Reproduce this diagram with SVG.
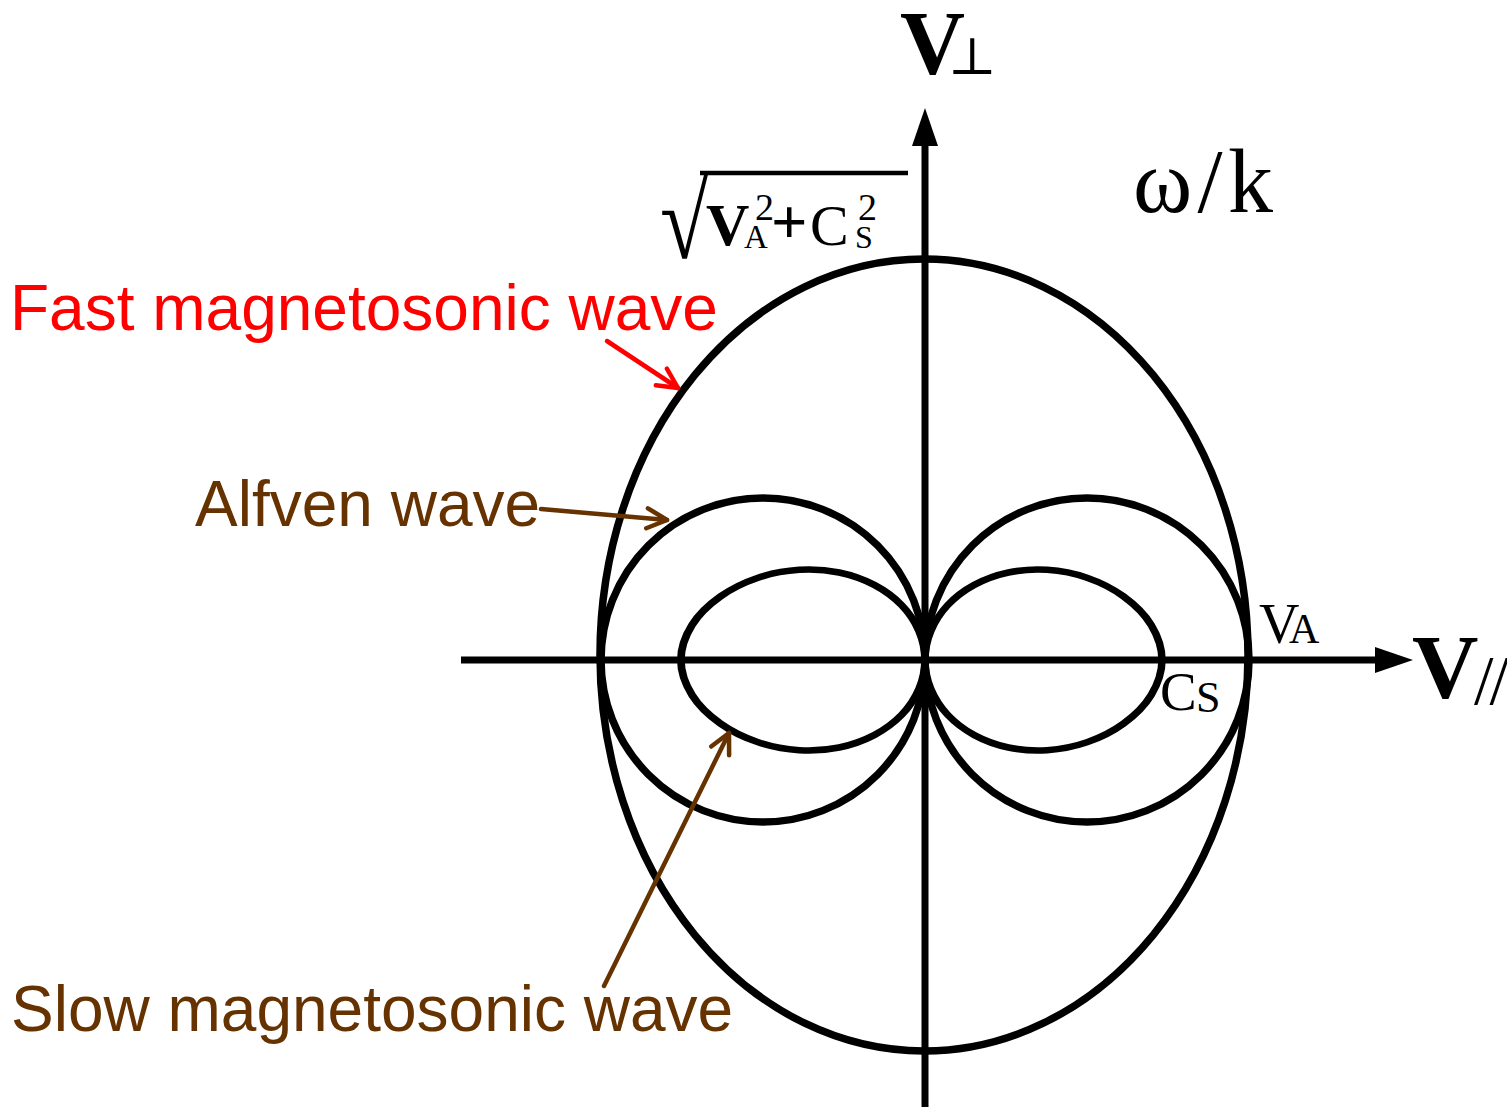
<svg xmlns="http://www.w3.org/2000/svg" xmlns:xlink="http://www.w3.org/1999/xlink" width="1507" height="1107" viewBox="0 0 1507 1107">
<style>
.curve{fill:none;stroke:#000;stroke-width:7.5}
.axis{fill:none;stroke:#000;stroke-width:7}
.ser{font-family:"Liberation Serif","DejaVu Serif",serif;fill:#000}
.bold{font-weight:bold}
.lab{font-family:"Liberation Sans",Arial,sans-serif;font-size:64px}
.red{fill:#FF0000}
.brown{fill:#663300}
.ptr-red{fill:none;stroke:#FF0000;stroke-width:4.5;stroke-linecap:round;stroke-linejoin:round}
.ptr-brown{fill:none;stroke:#663300;stroke-width:4.5;stroke-linecap:round;stroke-linejoin:round}
</style>
<defs>
<marker id="mRed" markerUnits="userSpaceOnUse" orient="auto" refX="0" refY="0" viewBox="-24 -14 28 28" markerWidth="28" markerHeight="28" overflow="visible">
<path d="M-20,-10 L0,0 L-20,10" fill="none" stroke="#FF0000" stroke-width="4.5" stroke-linecap="round" stroke-linejoin="round"/>
</marker>
<marker id="mBrown" markerUnits="userSpaceOnUse" orient="auto" refX="0" refY="0" viewBox="-24 -14 28 28" markerWidth="28" markerHeight="28" overflow="visible">
<path d="M-20,-10 L0,0 L-20,10" fill="none" stroke="#663300" stroke-width="4.5" stroke-linecap="round" stroke-linejoin="round"/>
</marker>
<path id="slowLobe" d="M237,0 C237,-13.3 232.5,-27.9 226.1,-39.9 C219.7,-52 209.2,-63.4 198.5,-72.3 C187.8,-81.2 174.7,-88.5 162,-93.5 C149.3,-98.5 135.2,-101.5 122.1,-102.5 C109,-103.5 95.5,-102.3 83.4,-99.4 C71.3,-96.5 59.4,-91.5 49.3,-85.3 C39.2,-79.1 29.9,-71 22.6,-62.2 C15.4,-53.5 9.6,-43.2 5.8,-32.8 C2,-22.4 0,-10.9 0,0 C0,10.9 2,22.4 5.8,32.8 C9.6,43.2 15.4,53.5 22.6,62.2 C29.9,71 39.2,79.1 49.3,85.3 C59.4,91.5 71.3,96.5 83.4,99.4 C95.5,102.3 109,103.5 122.1,102.5 C135.2,101.5 149.3,98.5 162,93.5 C174.7,88.5 187.8,81.2 198.5,72.3 C209.2,63.4 219.7,52 226.1,39.9 C232.5,27.9 237,13.3 237,0 Z"/>
</defs>

<g id="axes">
<line class="axis" x1="461" y1="660" x2="1380" y2="660"/>
<polygon points="1413,660 1375,647 1375,673" fill="#000"/>
<line class="axis" x1="925" y1="1107" x2="925" y2="140"/>
<polygon points="925,108 912,146 938,146" fill="#000"/>
</g>

<g id="fast-wave">
<ellipse class="curve" cx="924" cy="655" rx="324" ry="396"/>
</g>

<g id="alfven-wave">
<circle class="curve" cx="763" cy="660" r="162"/>
<circle class="curve" cx="1087" cy="660" r="162"/>
</g>

<g id="slow-wave">
<use xlink:href="#slowLobe" href="#slowLobe" transform="translate(925,660) scale(1,0.88)" style="fill:none;stroke:#000;stroke-width:7.5"/>
<use xlink:href="#slowLobe" href="#slowLobe" transform="translate(925,660) scale(-1.03,0.88)" style="fill:none;stroke:#000;stroke-width:7.5"/>
</g>

<g id="label-vperp">
<text class="ser bold" x="900" y="74" font-size="90">V</text>
<text class="ser" x="948" y="74" font-size="52">⊥</text>
</g>

<g id="label-omega-k">
<text class="ser" x="1133" y="212" font-size="90" textLength="140" lengthAdjust="spacing">ω/k</text>
</g>

<g id="label-sqrt">
<text class="ser bold" transform="translate(660,258) scale(0.82,1)" x="0" y="0" font-size="108">√</text>
<line x1="700" y1="173" x2="908" y2="173" stroke="#000" stroke-width="4.5"/>
<text class="ser bold" x="706" y="245" font-size="60">V</text>
<text class="ser" x="744" y="248" font-size="33">A</text>
<text class="ser" x="755" y="220" font-size="38">2</text>
<text class="ser bold" x="771" y="243" font-size="64">+</text>
<text class="ser" x="810" y="245" font-size="58">C</text>
<text class="ser" x="855" y="248" font-size="32">S</text>
<text class="ser" x="858" y="220" font-size="38">2</text>
</g>

<g id="label-va">
<text class="ser" x="1259" y="643" font-size="56">V</text>
<text class="ser" x="1289" y="643" font-size="42">A</text>
</g>

<g id="label-cs">
<text class="ser" x="1160" y="710" font-size="55">C</text>
<text class="ser" x="1196" y="712" font-size="44">S</text>
</g>

<g id="label-vpar">
<text class="ser bold" x="1412" y="698" font-size="92">V</text>
<text class="ser" x="1474" y="704" font-size="70" letter-spacing="-4">//</text>
</g>

<g id="label-fast">
<text class="lab red" x="10" y="330">Fast magnetosonic wave</text>
</g>
<g id="label-alfven">
<text class="lab brown" x="195" y="526">Alfven wave</text>
</g>
<g id="label-slow">
<text class="lab brown" x="11" y="1031">Slow magnetosonic wave</text>
</g>

<g id="connectors">
<line class="ptr-red" x1="607" y1="341" x2="678" y2="388" marker-end="url(#mRed)"/>
<line class="ptr-brown" x1="541" y1="509" x2="667" y2="520" marker-end="url(#mBrown)"/>
<line class="ptr-brown" x1="604" y1="986" x2="729" y2="733" marker-end="url(#mBrown)"/>
</g>
</svg>
